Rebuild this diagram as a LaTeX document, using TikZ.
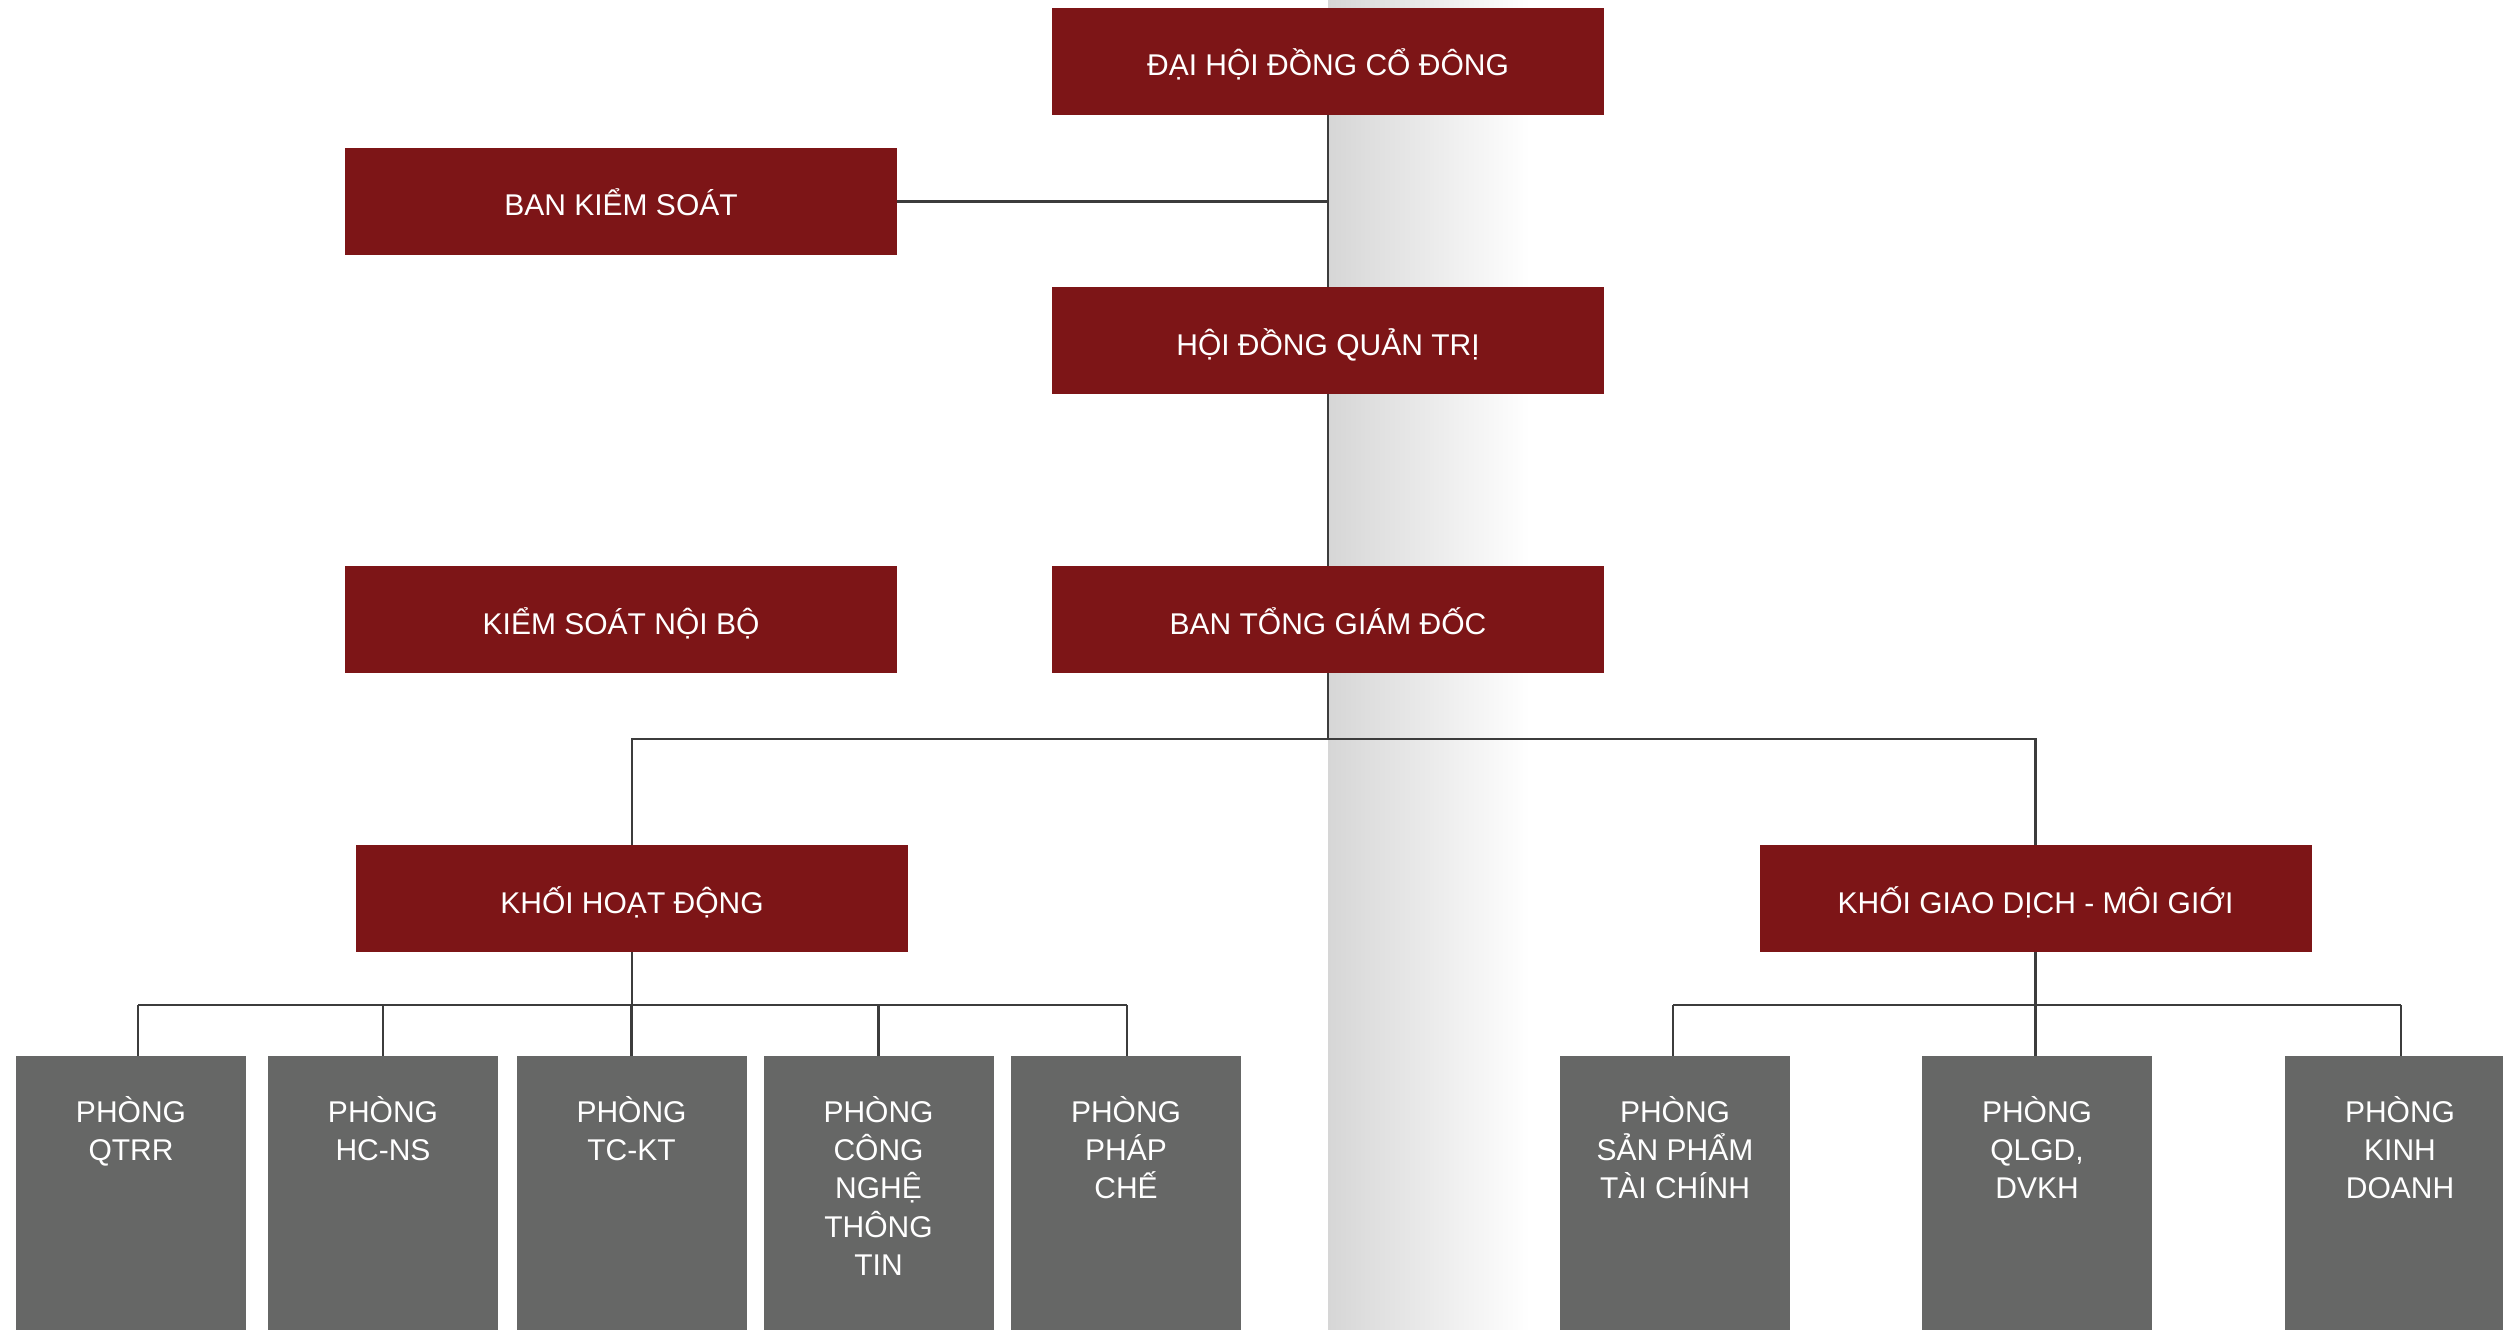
\documentclass[tikz,border=0pt]{standalone}
\usepackage{fontspec}
\setmainfont{Liberation Sans}
\definecolor{boxred}{HTML}{7D1517}
\definecolor{boxgray}{HTML}{666766}
\definecolor{linegray}{HTML}{3C3C3C}
\definecolor{shadegray}{HTML}{D6D6D6}
\begin{document}
\begin{tikzpicture}[x=1bp,y=-1bp,
  redbox/.style={fill=boxred, draw=none, minimum width=552bp, minimum height=107bp,
    inner sep=0pt, text=white, text height=29bp, text depth=0pt,
    font=\fontsize{30bp}{36bp}\selectfont},
  graybox/.style={fill=boxgray, draw=none, minimum width=230bp, minimum height=320bp,
    inner sep=0pt, anchor=north},
  graytext/.style={anchor=north, inner sep=0pt, align=center, text=white,
    font=\fontsize{30bp}{38.3bp}\selectfont},
  conn/.style={draw=linegray, line width=2.7bp}]
\useasboundingbox (0,0) rectangle (2503,1330);
\clip (0,0) rectangle (2503,1330);
% background shading band
\shade[left color=shadegray, right color=white] (1328,0) rectangle (1530,1330);

% red boxes
\node[redbox] (dh)   at (1328,61.5)  {ĐẠI HỘI ĐỒNG CỔ ĐÔNG};
\node[redbox] (bks)  at (621,201.5)  {BAN KIỂM SOÁT};
\node[redbox] (hdqt) at (1328,340.5) {HỘI ĐỒNG QUẢN TRỊ};
\node[redbox] (ksnb) at (621,619.5)  {KIỂM SOÁT NỘI BỘ};
\node[redbox] (btgd) at (1328,619.5) {BAN TỔNG GIÁM ĐỐC};
\node[redbox] (khd)  at (632,898.5)  {KHỐI HOẠT ĐỘNG};
\node[redbox] (kgd)  at (2035.5,898.5) {KHỐI GIAO DỊCH - MÔI GIỚI};

% gray boxes
\node[graybox] (p1) at (131,1056)  {};
\node[graybox] (p2) at (383,1056)  {};
\node[graybox] (p3) at (631.5,1056) {};
\node[graybox] (p4) at (878.5,1056) {};
\node[graybox] (p5) at (1126,1056) {};
\node[graybox] (q1) at (1675,1056) {};
\node[graybox] (q2) at (2037,1056) {};
\node[graybox] (q3) at (2400,1056) {};

\node[graytext] (tp1) at (131,1092)   {\rule{0pt}{30bp}PHÒNG\\QTRR};
\node[graytext] (tp2) at (383,1092)   {\rule{0pt}{30bp}PHÒNG\\HC-NS};
\node[graytext] (tp3) at (631.5,1092) {\rule{0pt}{30bp}PHÒNG\\TC-KT};
\node[graytext] (tp4) at (878.5,1092) {\rule{0pt}{30bp}PHÒNG\\CÔNG\\NGHỆ\\THÔNG\\TIN};
\node[graytext] (tp5) at (1126,1092)  {\rule{0pt}{30bp}PHÒNG\\PHÁP\\CHẾ};
\node[graytext] (tq1) at (1675,1092)  {\rule{0pt}{30bp}PHÒNG\\SẢN PHẨM\\TÀI CHÍNH};
\node[graytext] (tq2) at (2037,1092)  {\rule{0pt}{30bp}PHÒNG\\QLGD,\\DVKH};
\node[graytext] (tq3) at (2400,1092)  {\rule{0pt}{30bp}PHÒNG\\KINH\\DOANH};

% junction coordinates
\coordinate (j0) at (1328,739);
\coordinate (jl) at (632,1005);
\coordinate (jl1) at (138,1005);
\coordinate (jl5) at (1127,1005);
\coordinate (jr) at (2035.5,1005);
\coordinate (jr1) at (1673,1005);
\coordinate (jr3) at (2401,1005);

% connectors
\draw[conn] (dh.south) -- (hdqt.north);
\draw[conn] (hdqt.south) -- (btgd.north);
\draw[conn] (btgd.south) -- (j0);
\draw[conn] (bks.east) -- (bks.east -| dh.south);
\draw[conn] (khd.north) |- (j0) -| (kgd.north);

\draw[conn] (khd.south) -- (jl);
\draw[conn] (jl1) -- (jl5);
\draw[conn] (jl1) -- (jl1 |- p1.north);
\draw[conn] (p2.north) -- (p2.north |- jl);
\draw[conn] (p3.north) -- (p3.north |- jl);
\draw[conn] (p4.north) -- (p4.north |- jl);
\draw[conn] (jl5) -- (jl5 |- p5.north);

\draw[conn] (kgd.south) -- (jr);
\draw[conn] (jr1) -- (jr3);
\draw[conn] (jr1) -- (jr1 |- q1.north);
\draw[conn] (jr) -- (jr |- q2.north);
\draw[conn] (jr3) -- (jr3 |- q3.north);
\end{tikzpicture}
\end{document}
